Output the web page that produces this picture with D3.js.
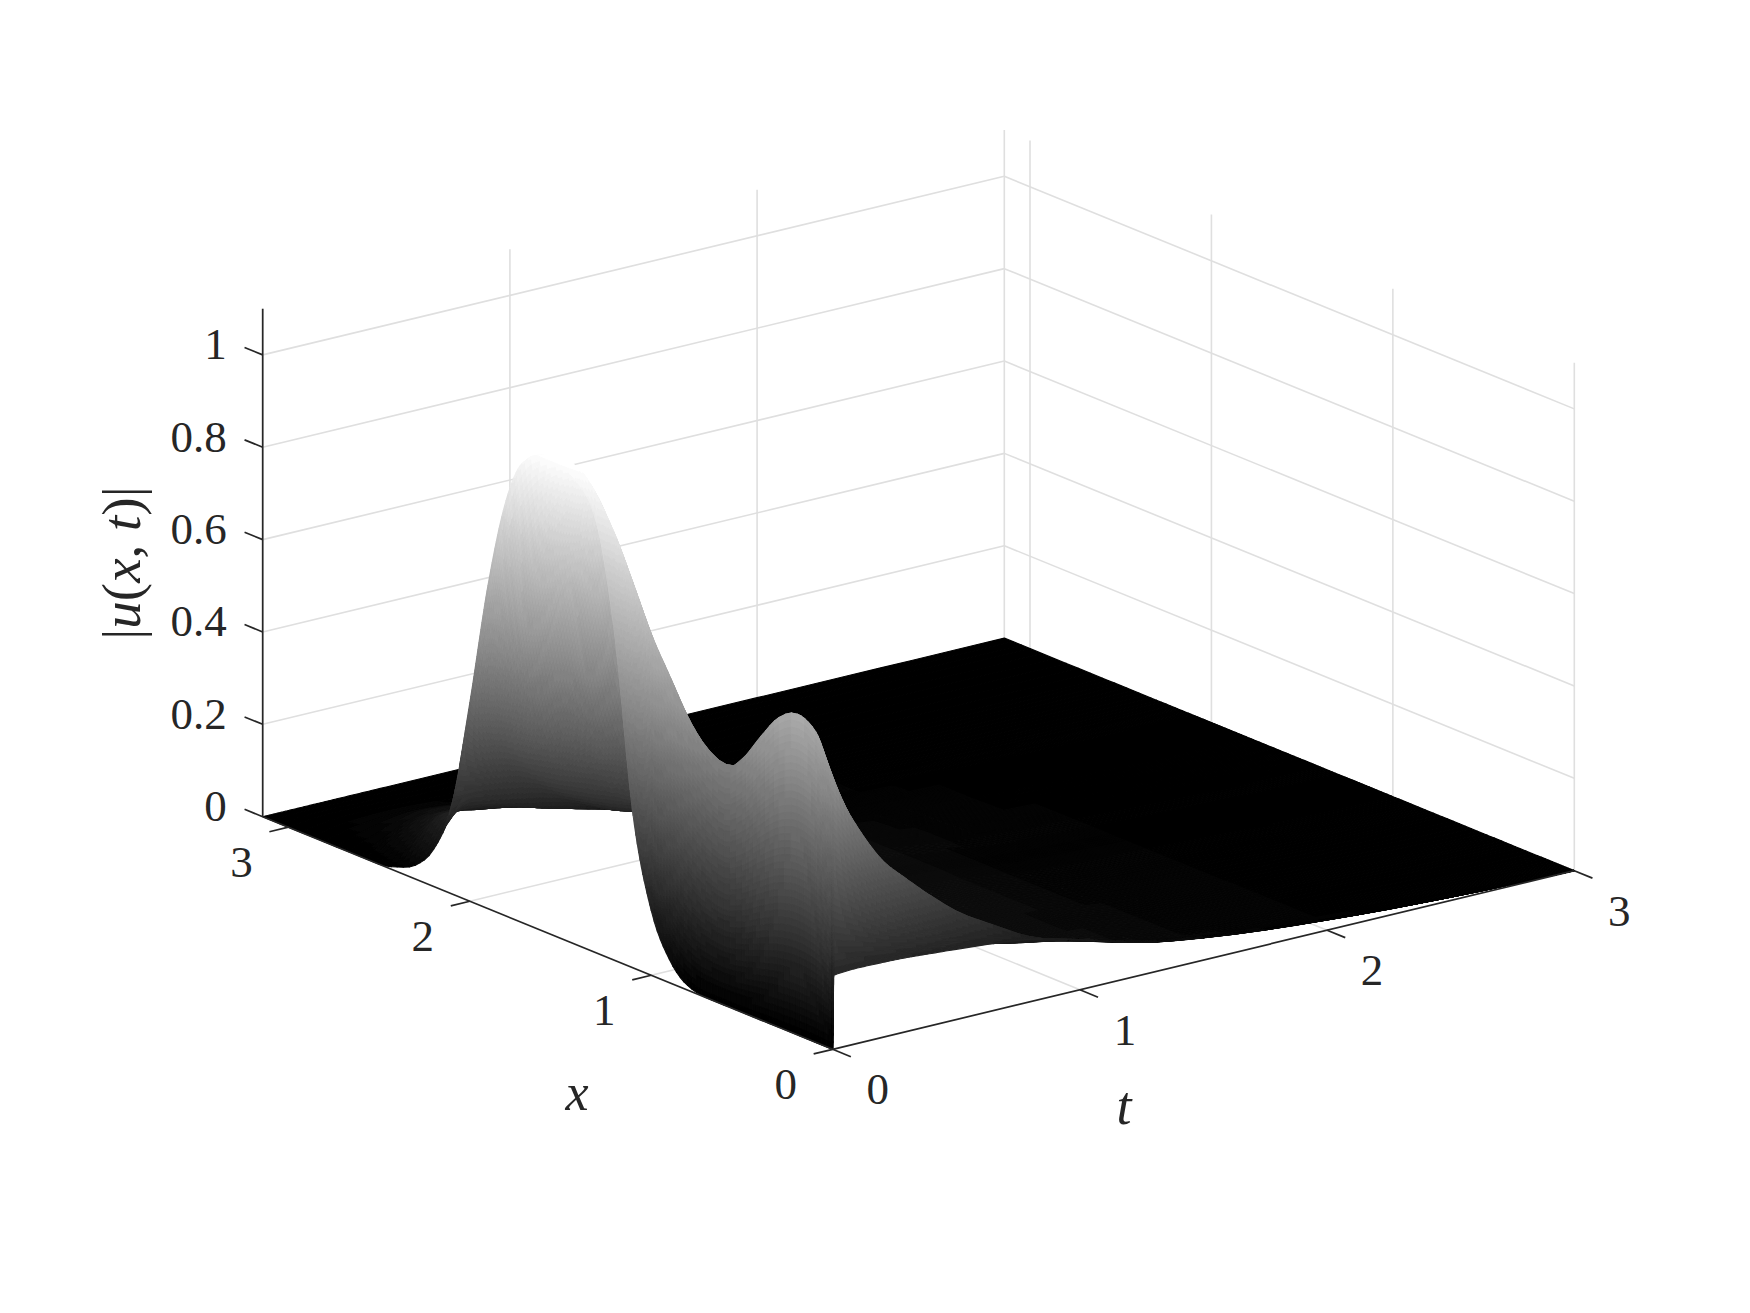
<!DOCTYPE html>
<html>
<head>
<meta charset="utf-8">
<script src="https://cdnjs.cloudflare.com/ajax/libs/d3/7.8.5/d3.min.js"></script>
<style>
  html, body { margin: 0; padding: 0; background: #fff; }
  text { font-family: "Liberation Serif", serif; fill: #262626; }
</style>
</head>
<body>
<div id="chart-area"></div>
<script>
// Grid of the surface. Finer next to t = 0 and x = 0
// because the surface jumps there.
const xGrid = [0, .005, .1, .2, .3, .4, .5, .6, .7, .8, .9, 1, 1.1, 1.2, 1.3, 1.4, 1.5, 1.6, 1.7, 1.8, 1.9, 2, 2.1, 2.2, 2.3, 2.4, 2.5, 2.6, 2.8, 3, 3.1416]
const tGrid = [0, .004, .1, .2, .3, .4, .5, .65, .8, 1, 1.25, 1.5, 2, 2.5, 3]

// |u(x,t)|, one row per x, one column per t
const uRows = [
    [0, .16, .163, .162, .16, .156, .152, .145, .135, .108, .07, .048, .022, .007, 0],
    [0, .57, .47, .385, .33, .28, .235, .185, .14, .108, .072, .05, .023, .007, 0],
    [0, .671, .51, .38, .3, .24, .18, .132, .112, .09, .056, .036, .017, .006, 0],
    [0, .693, .58, .42, .32, .25, .19, .125, .096, .076, .048, .033, .017, .006, 0],
    [0, .67, .56, .44, .34, .27, .2, .13, .085, .056, .048, .033, .017, .006, 0],
    [0, .613, .55, .45, .36, .29, .22, .14, .09, .05, .048, .033, .017, .006, 0],
    [0, .549, .52, .45, .37, .3, .23, .15, .095, .05, .048, .033, .017, .006, 0],
    [0, .513, .5, .44, .37, .31, .24, .16, .1, .055, .048, .03, .016, .005, 0],
    [0, .538, .48, .44, .37, .31, .25, .17, .11, .06, .048, .03, .016, .005, 0],
    [.01, .588, .48, .43, .37, .32, .26, .17, .11, .06, .048, .03, .016, .005, 0],
    [.05, .66, .52, .42, .37, .32, .26, .17, .11, .06, .048, .03, .016, .005, 0],
    [.14, .733, .58, .46, .38, .31, .26, .17, .11, .06, .048, .03, .016, .005, 0],
    [.33, .826, .66, .52, .41, .32, .25, .16, .1, .06, .05, .03, .016, .005, 0],
    [.7, .916, .75, .59, .45, .33, .25, .16, .1, .06, .05, .03, .016, .005, 0],
    [.93, .984, .84, .66, .48, .33, .23, .155, .105, .063, .05, .03, .016, .005, 0],
    [1, 1.03, .92, .7, .48, .32, .22, .16, .11, .065, .05, .032, .016, .005, 0],
    [1.02, 1.04, .83, .55, .36, .26, .2, .15, .11, .07, .05, .032, .016, .005, 0],
    [1.02, 1.03, .72, .42, .3, .225, .19, .15, .11, .07, .05, .03, .015, .005, 0],
    [1, 1, .58, .36, .265, .215, .185, .145, .11, .065, .045, .028, .014, .004, 0],
    [.9, .9, .45, .3, .235, .195, .165, .14, .105, .06, .04, .025, .013, .004, 0],
    [.7, .7, .38, .27, .215, .18, .15, .13, .095, .055, .04, .025, .013, .004, 0],
    [.43, .43, .33, .25, .2, .165, .14, .115, .08, .05, .035, .025, .012, .004, 0],
    [.19, .2, .205, .18, .155, .135, .12, .1, .075, .045, .025, .018, .008, .002, 0],
    [.08, .09, .155, .15, .135, .12, .11, .09, .068, .04, .025, .018, .008, .002, 0],
    [.03, .05, .125, .125, .115, .105, .095, .08, .058, .035, .02, .015, .006, .002, 0],
    [.01, .02, .08, .105, .095, .087, .077, .065, .043, .022, .012, .008, .003, .001, 0],
    [0, .01, .055, .08, .08, .075, .065, .05, .03, .012, .006, .004, .002, 0, 0],
    [0, .005, .03, .055, .065, .06, .05, .038, .02, .005, .003, .002, .001, 0, 0],
    [0, .003, .015, .022, .025, .024, .02, .012, .005, .001, 0, 0, 0, 0, 0],
    [0, 0, .006, .008, .007, .005, .003, .002, .001, 0, 0, 0, 0, 0, 0],
    [0, 0, 0, 0, 0, 0, 0, 0, 0, 0, 0, 0, 0, 0, 0]
]

const xTicks = [0, 1, 2, 3]
const tTicks = [0, 1, 2, 3]
const zTicks = [0, .2, .4, .6, .8, 1]
const zTickLabels = ["0", "0.2", "0.4", "0.6", "0.8", "1"]

const width = 1750, height = 1313
const xMax = Math.PI, tMax = 3, zMax = 1.1
const origin = {left: 832.7, top: 1049.3}
const axisColor = "#262626", gridColor = "#dfdfdf"

const svg = d3.select("#chart-area").append("svg")
    .attr("width", width)
    .attr("height", height)
    .style("display", "block")

// Oblique projection, one scale per screen direction of each data axis
const xToLeft = d3.scaleLinear().domain([0, xMax]).range([0, -570])
const xToTop = d3.scaleLinear().domain([0, xMax]).range([0, -232.6])
const tToLeft = d3.scaleLinear().domain([0, tMax]).range([0, 741.6])
const tToTop = d3.scaleLinear().domain([0, tMax]).range([0, -178.6])
const zToTop = d3.scaleLinear().domain([0, zMax]).range([0, -508])

const project = (x, t, z) => [
    origin.left + xToLeft(x) + tToLeft(t),
    origin.top + xToTop(x) + tToTop(t) + zToTop(z)
]

// gray colormap with 64 steps, the bands are visible in the original
const grays = d3.range(64).map(i => d3.rgb(i / 63 * 255, i / 63 * 255, i / 63 * 255).formatHex())
const color = d3.scaleQuantize()
    .domain([0, d3.max(uRows, r => d3.max(r))])
    .range(grays)

const segment = (g, a, b, stroke, w) => {
    const [x1, y1] = project(...a), [x2, y2] = project(...b)
    g.append("line")
        .attr("x1", x1).attr("y1", y1)
        .attr("x2", x2).attr("y2", y2)
        .attr("stroke", stroke)
        .attr("stroke-width", w)
}

// Walls and floor grid
const grid = svg.append("g").attr("class", "grid")
zTicks.filter(z => z > 0).forEach(z => {
    segment(grid, [xMax, 0, z], [xMax, tMax, z], gridColor, 1.6)
    segment(grid, [0, tMax, z], [xMax, tMax, z], gridColor, 1.6)
})
tTicks.forEach(t => segment(grid, [xMax, t, 0], [xMax, t, zMax], gridColor, 1.6))
xTicks.forEach(x => segment(grid, [x, tMax, 0], [x, tMax, zMax], gridColor, 1.6))
xTicks.filter(x => x > 0).forEach(x => segment(grid, [x, 0, 0], [x, tMax, 0], gridColor, 1.6))
tTicks.filter(t => t > 0).forEach(t => segment(grid, [0, t, 0], [xMax, t, 0], gridColor, 1.6))

// Monotone cubic through (xs, ys), same slopes as d3.curveMonotoneX
const monotoneSlopes = (xs, ys) => {
    const n = xs.length
    const sec = d3.range(n - 1).map(i => (ys[i + 1] - ys[i]) / (xs[i + 1] - xs[i]))
    const m = new Array(n)
    for (let i = 1; i < n - 1; i++) {
        const h0 = xs[i] - xs[i - 1], h1 = xs[i + 1] - xs[i]
        const p = (sec[i - 1] * h1 + sec[i] * h0) / (h0 + h1)
        m[i] = (Math.sign(sec[i - 1]) + Math.sign(sec[i])) *
            Math.min(Math.abs(sec[i - 1]), Math.abs(sec[i]), .5 * Math.abs(p))
    }
    m[0] = (3 * sec[0] - m[1]) / 2
    m[n - 1] = (3 * sec[n - 2] - m[n - 2]) / 2
    return m
}

const hermite = (xs, ys, m, i, s) => {
    const h = xs[i + 1] - xs[i]
    const s2 = s * s, s3 = s2 * s
    return (2 * s3 - 3 * s2 + 1) * ys[i] + (s3 - 2 * s2 + s) * h * m[i] +
        (-2 * s3 + 3 * s2) * ys[i + 1] + (s3 - s2) * h * m[i + 1]
}

// The first interval of each grid is the jump: keep it straight, smooth the rest
const smoothAlong = (grid_, ys, places) => {
    const xs = grid_.slice(1), vs = ys.slice(1)
    const m = monotoneSlopes(xs, vs)
    return places.map(p => Math.max(0, p.i === 0
        ? ys[0] + (ys[1] - ys[0]) * p.s
        : hermite(xs, vs, m, p.i - 1, p.s)))
}

// Shade like shading interp: split each cell so one piece spans about one gray step
const stepsFor = (range, minSteps) => Math.max(minSteps, Math.min(70, Math.ceil(range * 64)))
const xSteps = d3.range(xGrid.length - 1).map(i =>
    stepsFor(d3.max(tGrid, (_, j) => Math.abs(uRows[i + 1][j] - uRows[i][j])), 3))
const tSteps = d3.range(tGrid.length - 1).map(j =>
    stepsFor(d3.max(xGrid, (_, i) => Math.abs(uRows[i][j + 1] - uRows[i][j])), 4))

const spread = (grid_, steps) => {
    const out = []
    steps.forEach((k, i) => {
        d3.range(k).forEach(q => out.push({i, s: q / k, v: grid_[i] + (grid_[i + 1] - grid_[i]) * q / k}))
    })
    const last = grid_.length - 1
    out.push({i: last - 1, s: 1, v: grid_[last]})
    return out
}
const xFine = spread(xGrid, xSteps)
const tFine = spread(tGrid, tSteps)

// refine along x for every t column, then along t for every fine x
const columns = tGrid.map((_, j) => smoothAlong(xGrid, uRows.map(r => r[j]), xFine))
const fine = xFine.map((_, a) => smoothAlong(tGrid, columns.map(c => c[a]), tFine))

// Painter's order: far x first, inside a strip far t first. Neighbouring pieces with
// the same gray are merged into one polygon, which keeps the DOM small. Merging stops
// at the jump next to t = 0, a polygon folded over it would cancel itself when filled.
const cellGray = (a, b) => color((fine[a][b] + fine[a + 1][b] + fine[a][b + 1] + fine[a + 1][b + 1]) / 4)
const bands = []
for (let a = xFine.length - 2; a >= 0; a--) {
    let b = tFine.length - 2
    while (b >= 0) {
        const fill = cellGray(a, b)
        let lo = b
        while (lo > 0 && cellGray(a, lo - 1) === fill && tFine[lo - 1].i > 0 === tFine[lo].i > 0) lo--
        const pts = []
        for (let q = lo; q <= b + 1; q++) pts.push(project(xFine[a].v, tFine[q].v, fine[a][q]))
        for (let q = b + 1; q >= lo; q--) pts.push(project(xFine[a + 1].v, tFine[q].v, fine[a + 1][q]))
        bands.push({fill, pts})
        b = lo - 1
    }
}

svg.append("g").attr("class", "surface")
    .attr("stroke-width", 1.1)
    .attr("stroke-linejoin", "round")
    .selectAll("polygon")
    .data(bands)
    .join("polygon")
    .attr("points", d => d.pts.map(p => p[0].toFixed(2) + "," + p[1].toFixed(2)).join(" "))
    .attr("fill", d => d.fill)
    .attr("stroke", d => d.fill)

// Axes
const axes = svg.append("g").attr("class", "axes")
segment(axes, [xMax, 0, 0], [xMax, 0, zMax], axisColor, 1.7)
segment(axes, [0, 0, 0], [xMax, 0, 0], axisColor, 1.7)
segment(axes, [0, 0, 0], [0, tMax, 0], axisColor, 1.7)

const xTickLen = .1, tTickLen = .077
zTicks.forEach(z => segment(axes, [xMax, 0, z], [xMax + xTickLen, 0, z], axisColor, 1.7))
xTicks.forEach(x => segment(axes, [x, 0, 0], [x, -tTickLen, 0], axisColor, 1.7))
tTicks.forEach(t => segment(axes, [0, t, 0], [-xTickLen, t, 0], axisColor, 1.7))

const labels = svg.append("g").attr("class", "labels").attr("font-size", 45)

zTicks.forEach((z, i) => {
    const [px, py] = project(xMax, 0, z)
    labels.append("text")
        .attr("x", px - 36)
        .attr("y", py + 4.5)
        .attr("text-anchor", "end")
        .text(zTickLabels[i])
})
xTicks.forEach(x => {
    const [px, py] = project(x, 0, 0)
    labels.append("text")
        .attr("x", px - 47)
        .attr("y", py + 50)
        .attr("text-anchor", "middle")
        .text(x)
})
tTicks.forEach(t => {
    const [px, py] = project(0, t, 0)
    labels.append("text")
        .attr("x", px + 45)
        .attr("y", py + 55)
        .attr("text-anchor", "middle")
        .text(t)
})

labels.append("text")
    .attr("x", 577).attr("y", 1110)
    .attr("text-anchor", "middle")
    .attr("font-style", "italic")
    .attr("font-size", 52)
    .text("x")
labels.append("text")
    .attr("x", 1124).attr("y", 1124)
    .attr("text-anchor", "middle")
    .attr("font-style", "italic")
    .attr("font-size", 54)
    .text("t")

const zTitle = labels.append("text")
    .attr("transform", "translate(140, 563) rotate(-90)")
    .attr("text-anchor", "middle")
    .attr("font-size", 55)
zTitle.append("tspan").text("|")
zTitle.append("tspan").attr("font-style", "italic").text("u")
zTitle.append("tspan").text("(")
zTitle.append("tspan").attr("font-style", "italic").text("x")
zTitle.append("tspan").text(", ")
zTitle.append("tspan").attr("font-style", "italic").text("t")
zTitle.append("tspan").text(")|")
</script>
</body>
</html>
